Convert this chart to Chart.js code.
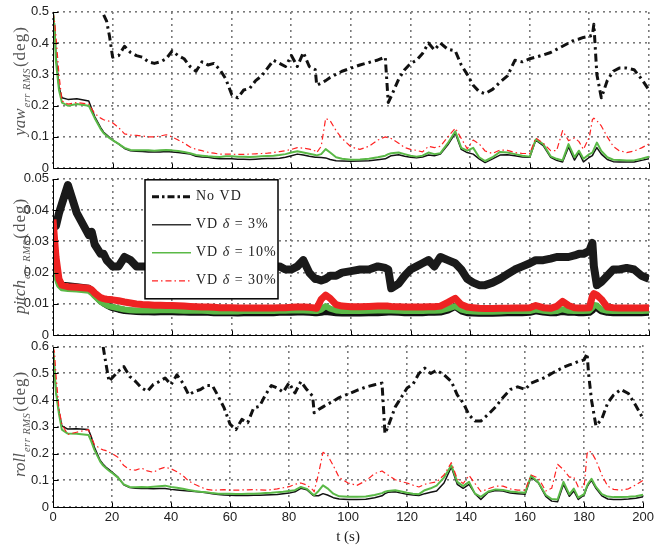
<!DOCTYPE html>
<html><head><meta charset="utf-8">
<script src="https://cdn.jsdelivr.net/npm/chart.js@4/dist/chart.umd.min.js"></script>
<style>
html,body{margin:0;padding:0;background:#fff;}
#wrap{position:relative;width:657px;height:546px;overflow:hidden;background:#fff;}
canvas{position:absolute;left:0;}
</style></head><body>
<div id="wrap">
<canvas id="c1" width="657" height="180" style="top:0px;width:657px;height:180px"></canvas>
<canvas id="c2" width="657" height="180" style="top:167px;width:657px;height:180px"></canvas>
<canvas id="c3" width="657" height="211" style="top:335px;width:657px;height:211px"></canvas>
</div>
<script>
// ---- time samples (s) ----
const T = [0,0.5,1,2,3,5,8,12,13,14,
 16,17,18,19,20,22,24,26,28,30,
 32,34,36,38,40,42,44,46,48,50,
 52,54,56,58,60,62,64,66,68,70,
 72,74,76,78,80,82,84,86,88,88.5,
 90,91.5,93,95,97,100,103,106,109,111.5,
 112.5,113.5,116,118,120,122,124,126,128,130,
 132.5,135,137,139,141,143,145,147.5,150,152.5,
 155,157.5,160,162,164.5,167,169,171,173,175,
 176.5,178,180,181,181.5,182.5,184,186,188,190,
 192.5,195,197.5,200];

const seriesLabels = ['No VD', 'VD δ = 3%', 'VD δ = 10%', 'VD δ = 30%'];
const xTicks = [0,20,40,60,80,100,120,140,160,180,200];
const yawTicks = [0,0.1,0.2,0.3,0.4,0.5];
const pitchTicks = [0,0.01,0.02,0.03,0.04,0.05];
const rollTicks = [0,0.1,0.2,0.3,0.4,0.5,0.6];
const xTitle = 't (s)';

// ---- yaw ----
const yawNoVD = [null,null,null,null,null,null,null,null,null,null,
 null,0.49,0.47,0.42,0.355,0.36,0.39,0.37,0.36,0.355,
 0.34,0.335,0.34,0.35,0.375,0.36,0.35,0.325,0.31,0.34,
 0.33,0.335,0.315,0.285,0.235,0.225,0.25,0.255,0.28,0.295,
 0.32,0.345,0.335,0.325,0.36,0.325,0.37,0.325,0.315,0.265,
 0.272,0.28,0.29,0.30,0.31,0.32,0.33,0.338,0.346,0.355,
 0.21,0.23,0.285,0.315,0.335,0.345,0.367,0.40,0.378,0.40,
 0.38,0.375,0.33,0.30,0.265,0.245,0.238,0.252,0.275,0.295,
 0.345,0.34,0.35,0.355,0.362,0.37,0.38,0.39,0.40,0.41,
 0.413,0.418,0.422,0.425,0.46,0.30,0.225,0.28,0.31,0.32,
 0.32,0.315,0.285,0.25];
const yawVD3 = [0.5,0.46,0.36,0.26,0.225,0.22,0.222,0.215,0.19,0.165,
 0.13,0.115,0.107,0.098,0.09,0.078,0.063,0.056,0.054,0.053,
 0.052,0.052,0.052,0.053,0.052,0.05,0.048,0.045,0.038,0.036,
 0.035,0.032,0.03,0.03,0.03,0.029,0.029,0.028,0.029,0.03,
 0.031,0.031,0.032,0.035,0.04,0.045,0.042,0.038,0.035,0.035,
 0.034,0.033,0.028,0.024,0.023,0.022,0.023,0.024,0.027,0.03,
 0.035,0.04,0.043,0.038,0.035,0.033,0.036,0.042,0.04,0.045,
 0.075,0.112,0.06,0.05,0.045,0.03,0.018,0.03,0.042,0.043,
 0.04,0.036,0.035,0.09,0.072,0.035,0.025,0.02,0.068,0.026,
 0.05,0.02,0.035,0.04,0.05,0.066,0.045,0.028,0.021,0.02,
 0.02,0.02,0.025,0.03];
const yawVD10 = [0.5,0.45,0.34,0.25,0.21,0.2,0.205,0.2,0.18,0.16,
 0.125,0.112,0.104,0.096,0.09,0.078,0.065,0.058,0.057,0.057,
 0.057,0.056,0.057,0.058,0.057,0.055,0.052,0.048,0.042,0.04,
 0.038,0.037,0.036,0.038,0.038,0.037,0.037,0.036,0.037,0.038,
 0.039,0.04,0.042,0.045,0.05,0.054,0.05,0.046,0.042,0.041,
 0.045,0.061,0.05,0.035,0.03,0.027,0.028,0.03,0.035,0.04,
 0.045,0.048,0.05,0.045,0.04,0.037,0.04,0.05,0.045,0.048,
 0.08,0.118,0.065,0.056,0.065,0.035,0.023,0.035,0.052,0.05,
 0.045,0.04,0.037,0.092,0.077,0.038,0.03,0.025,0.077,0.035,
 0.056,0.03,0.045,0.05,0.06,0.082,0.055,0.035,0.027,0.026,
 0.025,0.025,0.03,0.037];
const yawVD30 = [0.5,0.47,0.42,0.3,0.215,0.205,0.21,0.205,0.19,0.175,
 0.16,0.155,0.152,0.15,0.145,0.13,0.11,0.106,0.105,0.103,
 0.1,0.1,0.103,0.107,0.1,0.09,0.08,0.068,0.06,0.056,
 0.051,0.048,0.045,0.045,0.045,0.044,0.044,0.045,0.046,0.047,
 0.048,0.05,0.053,0.056,0.06,0.066,0.064,0.061,0.055,0.05,
 0.07,0.159,0.152,0.12,0.095,0.068,0.06,0.07,0.09,0.1,
 0.097,0.095,0.08,0.066,0.06,0.057,0.052,0.07,0.066,0.07,
 0.1,0.128,0.095,0.062,0.09,0.078,0.055,0.047,0.058,0.057,
 0.05,0.047,0.047,0.097,0.08,0.056,0.056,0.12,0.088,0.097,
 0.085,0.06,0.1,0.155,0.16,0.152,0.135,0.1,0.07,0.056,
 0.05,0.055,0.065,0.078];

// ---- pitch ----
const pitchNoVD = [0.037,0.035,0.035,0.039,0.042,0.048,0.039,0.032,0.033,0.029,
 0.026,0.026,0.024,0.023,0.022,0.022,0.025,0.024,0.022,0.022,
 0.022,0.023,0.022,0.022,0.021,0.022,0.022,0.021,0.021,0.021,
 0.021,0.022,0.022,0.021,0.021,0.02,0.021,0.021,0.022,0.022,
 0.022,0.022,0.022,0.021,0.021,0.022,0.024,0.02,0.018,0.018,
 0.0175,0.018,0.019,0.019,0.02,0.0205,0.021,0.021,0.022,0.0215,
 0.021,0.015,0.0165,0.019,0.021,0.022,0.023,0.024,0.022,0.025,
 0.024,0.023,0.021,0.018,0.0168,0.016,0.016,0.0168,0.018,0.0195,
 0.021,0.022,0.023,0.024,0.024,0.0245,0.025,0.025,0.025,0.0255,
 0.026,0.026,0.027,0.0295,0.022,0.016,0.017,0.019,0.021,0.021,
 0.0215,0.021,0.019,0.018];
const pitchVD3 = [0.03,0.025,0.02,0.017,0.016,0.0158,0.0155,0.015,0.0143,0.013,
 0.011,0.0103,0.0097,0.0092,0.0088,0.0083,0.0079,0.0077,0.0076,0.0075,
 0.0075,0.0074,0.0075,0.0076,0.0075,0.0074,0.0074,0.0073,0.0073,0.0073,
 0.0073,0.0072,0.0072,0.0072,0.0072,0.0071,0.0072,0.0072,0.0072,0.0072,
 0.0072,0.0072,0.0073,0.0073,0.0073,0.0074,0.0074,0.0073,0.0072,0.0072,
 0.0073,0.0076,0.0074,0.0072,0.0071,0.0071,0.0071,0.0072,0.0072,0.0073,
 0.0074,0.0074,0.0073,0.0072,0.0072,0.0072,0.0072,0.0073,0.0073,0.0074,
 0.008,0.0092,0.0078,0.0072,0.0071,0.007,0.007,0.007,0.0071,0.0072,
 0.0072,0.0072,0.0073,0.0078,0.0074,0.0072,0.0072,0.0076,0.0073,0.0073,
 0.0072,0.0072,0.0073,0.008,0.009,0.0088,0.0078,0.0073,0.0072,0.0072,
 0.0072,0.0072,0.0072,0.0073];
const pitchVD10 = [0.03,0.024,0.019,0.016,0.015,0.0148,0.0146,0.0142,0.0135,0.0125,
 0.0107,0.0101,0.0096,0.0092,0.009,0.0086,0.0082,0.008,0.0079,0.0079,
 0.0079,0.0079,0.008,0.008,0.008,0.0079,0.0078,0.0078,0.0078,0.0078,
 0.0077,0.0076,0.0076,0.0076,0.0076,0.0076,0.0077,0.0077,0.0077,0.0077,
 0.0077,0.0077,0.0078,0.0078,0.0079,0.0079,0.0079,0.0078,0.0077,0.0077,
 0.0082,0.0093,0.0085,0.0079,0.0077,0.0077,0.0077,0.0078,0.0079,0.0079,
 0.0079,0.0079,0.0078,0.0077,0.0077,0.0077,0.0077,0.0078,0.0078,0.0079,
 0.0085,0.0093,0.0082,0.0077,0.0076,0.0075,0.0075,0.0075,0.0076,0.0077,
 0.0077,0.0077,0.0077,0.0082,0.0078,0.0076,0.0077,0.0083,0.0078,0.0077,
 0.0077,0.0077,0.0078,0.0088,0.0097,0.0095,0.0083,0.0078,0.0077,0.0077,
 0.0077,0.0077,0.0077,0.0078];
const pitchVD30 = [0.037,0.031,0.025,0.018,0.016,0.0155,0.0153,0.015,0.0145,0.0135,
 0.012,0.0117,0.0115,0.0114,0.0113,0.011,0.0106,0.0103,0.01,0.0098,
 0.0097,0.0096,0.0096,0.0095,0.0095,0.0094,0.0093,0.0092,0.0091,0.009,
 0.009,0.0089,0.0088,0.0088,0.0088,0.0087,0.0087,0.0087,0.0087,0.0087,
 0.0087,0.0087,0.0088,0.0088,0.0089,0.009,0.009,0.0089,0.0087,0.0086,
 0.0115,0.0128,0.0118,0.0098,0.0093,0.0091,0.0091,0.0092,0.0093,0.0093,
 0.0093,0.0092,0.0091,0.009,0.009,0.009,0.009,0.0091,0.0091,0.0093,
 0.0105,0.0118,0.0098,0.009,0.0088,0.0086,0.0085,0.0085,0.0086,0.0086,
 0.0087,0.0087,0.0088,0.0095,0.0088,0.0086,0.0092,0.0108,0.0095,0.0088,
 0.0087,0.0087,0.0088,0.0125,0.0133,0.0128,0.0115,0.009,0.0088,0.0087,
 0.0087,0.0087,0.0087,0.0088];

// ---- roll ----
const rollNoVD = [null,null,null,null,null,null,null,null,null,null,
 null,0.6,0.533,0.47,0.483,0.507,0.526,0.489,0.47,0.446,
 0.433,0.459,0.47,0.483,0.458,0.495,0.464,0.42,0.433,0.44,
 0.455,0.455,0.415,0.371,0.31,0.29,0.328,0.316,0.371,0.377,
 0.42,0.455,0.446,0.43,0.465,0.427,0.47,0.44,0.415,0.353,
 0.365,0.375,0.385,0.396,0.41,0.423,0.437,0.449,0.458,0.464,
 0.275,0.3,0.375,0.41,0.446,0.46,0.5,0.52,0.5,0.512,
 0.495,0.47,0.42,0.39,0.345,0.322,0.322,0.347,0.375,0.41,
 0.44,0.45,0.44,0.464,0.475,0.487,0.5,0.512,0.523,0.532,
 0.538,0.545,0.551,0.575,0.5,0.40,0.304,0.33,0.39,0.42,
 0.44,0.425,0.38,0.33];
const rollVD3 = [0.6,0.52,0.433,0.36,0.304,0.292,0.293,0.29,0.262,0.225,
 0.174,0.16,0.149,0.14,0.131,0.112,0.083,0.073,0.07,0.069,
 0.069,0.068,0.069,0.069,0.066,0.064,0.062,0.06,0.058,0.056,
 0.053,0.05,0.047,0.045,0.044,0.043,0.043,0.043,0.044,0.044,
 0.045,0.046,0.047,0.05,0.052,0.057,0.07,0.065,0.045,0.042,
 0.042,0.05,0.045,0.035,0.03,0.028,0.028,0.029,0.035,0.042,
 0.05,0.055,0.057,0.052,0.048,0.045,0.043,0.05,0.055,0.06,
 0.09,0.15,0.085,0.07,0.085,0.05,0.028,0.055,0.062,0.06,
 0.052,0.05,0.048,0.113,0.09,0.04,0.022,0.02,0.085,0.04,
 0.06,0.028,0.045,0.075,0.085,0.1,0.07,0.042,0.03,0.028,
 0.028,0.03,0.033,0.038];
const rollVD10 = [0.6,0.52,0.43,0.35,0.29,0.275,0.274,0.27,0.245,0.215,
 0.17,0.155,0.145,0.136,0.128,0.11,0.085,0.075,0.074,0.075,
 0.074,0.076,0.078,0.08,0.075,0.072,0.068,0.064,0.06,0.057,
 0.055,0.052,0.05,0.05,0.05,0.049,0.049,0.05,0.05,0.051,
 0.052,0.053,0.055,0.057,0.06,0.063,0.075,0.068,0.048,0.044,
 0.06,0.081,0.07,0.05,0.04,0.038,0.038,0.039,0.045,0.052,
 0.057,0.06,0.063,0.058,0.053,0.05,0.048,0.063,0.07,0.08,
 0.11,0.156,0.094,0.078,0.094,0.05,0.038,0.058,0.066,0.064,
 0.058,0.055,0.053,0.117,0.092,0.045,0.03,0.028,0.094,0.047,
 0.069,0.035,0.048,0.08,0.09,0.106,0.075,0.048,0.039,0.037,
 0.037,0.038,0.04,0.046];
const rollVD30 = [0.6,0.58,0.495,0.37,0.31,0.272,0.28,0.29,0.26,0.235,
 0.218,0.214,0.211,0.205,0.2,0.186,0.155,0.14,0.138,0.146,
 0.135,0.13,0.142,0.149,0.143,0.132,0.118,0.097,0.085,0.075,
 0.066,0.063,0.064,0.065,0.063,0.063,0.064,0.064,0.065,0.064,
 0.063,0.065,0.068,0.072,0.076,0.085,0.09,0.082,0.065,0.057,
 0.125,0.205,0.195,0.155,0.11,0.09,0.081,0.098,0.125,0.135,
 0.127,0.12,0.102,0.095,0.09,0.082,0.075,0.085,0.09,0.094,
 0.12,0.166,0.105,0.088,0.118,0.088,0.058,0.068,0.078,0.078,
 0.068,0.063,0.063,0.12,0.108,0.06,0.07,0.16,0.14,0.112,
 0.112,0.075,0.075,0.2,0.21,0.205,0.175,0.12,0.078,0.066,
 0.063,0.068,0.083,0.1];

// sanity check
const allSeries = {yawNoVD,yawVD3,yawVD10,yawVD30,pitchNoVD,pitchVD3,pitchVD10,pitchVD30,rollNoVD,rollVD3,rollVD10,rollVD30};
for (const k in allSeries) { if (allSeries[k].length !== T.length) throw new Error(k + ' length ' + allSeries[k].length + ' vs ' + T.length); }

// ---- styles ----
const GREEN = '#5ab947', RED = '#ff2222', BLACK = '#111111';
const lineStyles = [
  {borderColor: BLACK, borderWidth: 3, borderDash: [8,4,2.5,4]},
  {borderColor: BLACK, borderWidth: 1.5},
  {borderColor: GREEN, borderWidth: 2},
  {borderColor: RED, borderWidth: 1.2, borderDash: [6,3,1.5,3]}
];
const bandStyles = [
  {borderColor: '#1a1a1a', borderWidth: 8},
  {borderColor: BLACK, borderWidth: 7},
  {borderColor: GREEN, borderWidth: 6},
  {borderColor: '#ee2222', borderWidth: 7}
];
const legendStyles = [
  {color: BLACK, width: 3, dash: [7,3,2.5,3]},
  {color: '#333', width: 1.5, dash: []},
  {color: GREEN, width: 1.5, dash: []},
  {color: RED, width: 1.2, dash: [6,3,1.5,3]}
];

// ---- plugins ----
// dotted MATLAB-style grid, placed with the chart's own scales
const dotGridPlugin = {
  id: 'dotGrid',
  beforeDatasetsDraw(chart) {
    const {ctx, chartArea: a, scales} = chart;
    ctx.save();
    ctx.fillStyle = '#7a7a7a';
    const L = Math.round(a.left), R = Math.round(a.right), Tp = Math.round(a.top), B = Math.round(a.bottom);
    scales.y.ticks.forEach(t => {
      const py = Math.round(scales.y.getPixelForValue(t.value));
      for (let x = L + 4; x <= R - 1; x += 6) ctx.fillRect(x, py - 1, 2, 1.6);
    });
    scales.x.ticks.forEach(t => {
      const px = Math.round(scales.x.getPixelForValue(t.value));
      for (let y = B - 4; y >= Tp; y -= 6) ctx.fillRect(px - 1, y - 2, 1.6, 2);
    });
    ctx.restore();
  }
};
const axisPlugin = {
  id: 'matlabAxes',
  afterDraw(chart) {
    const {ctx, chartArea: a, scales} = chart;
    ctx.save();
    ctx.strokeStyle = '#000'; ctx.lineWidth = 1; ctx.setLineDash([]);
    ctx.beginPath();
    const L = Math.round(a.left) + 0.5, B = Math.round(a.bottom) + 0.5;
    ctx.moveTo(L, Math.round(a.top)); ctx.lineTo(L, B); ctx.lineTo(Math.round(a.right) + 1, B);
    scales.x.ticks.forEach(t => { const px = Math.round(scales.x.getPixelForValue(t.value)) + 0.5; ctx.moveTo(px, B); ctx.lineTo(px, B - 5); });
    scales.y.ticks.forEach(t => { const py = Math.round(scales.y.getPixelForValue(t.value)) + 0.5; ctx.moveTo(L, py); ctx.lineTo(L + 5, py); });
    ctx.stroke();
    ctx.restore();
  }
};
const yTitlePlugin = {
  id: 'yTitle',
  afterDraw(chart, args, opts) {
    if (!opts || !opts.main) return;
    const ctx = chart.ctx;
    ctx.save();
    ctx.fillStyle = '#555';
    const fMain = "italic 17px 'Liberation Serif', serif";
    const fSub = "italic 10.5px 'Liberation Serif', serif";
    const fUnit = "17px 'Liberation Serif', serif";
    ctx.letterSpacing = '0px';
    ctx.font = fMain; const w1 = ctx.measureText(opts.main).width;
    ctx.font = fSub; ctx.letterSpacing = '0.5px'; const w2 = ctx.measureText(opts.sub).width;
    ctx.font = fUnit; ctx.letterSpacing = '1px'; const w3 = ctx.measureText(opts.unit).width;
    const total = w1 + w2 + w3 + 2;
    const cy = (chart.chartArea.top + chart.chartArea.bottom) / 2 + opts.shift;
    ctx.translate(25, cy); ctx.rotate(-Math.PI / 2);
    ctx.textBaseline = 'alphabetic'; ctx.textAlign = 'left';
    let x = -total / 2;
    ctx.letterSpacing = '0px'; ctx.font = fMain; ctx.fillText(opts.main, x, 0); x += w1 + 1;
    ctx.letterSpacing = '0.5px'; ctx.font = fSub; ctx.fillText(opts.sub, x, 5); x += w2 + 1;
    ctx.letterSpacing = '1px'; ctx.font = fUnit; ctx.fillText(opts.unit, x, 0);
    ctx.restore();
  }
};
const legendPlugin = {
  id: 'boxLegend',
  afterDatasetsDraw(chart, args, opts) {
    if (!opts || !opts.show) return;
    const ctx = chart.ctx, a = chart.chartArea;
    const x0 = a.left + 92, y0 = a.top + 1, w = 133, h = 119;
    ctx.save();
    ctx.fillStyle = '#fff'; ctx.fillRect(x0, y0, w, h);
    ctx.strokeStyle = '#000'; ctx.lineWidth = 1.5; ctx.setLineDash([]); ctx.strokeRect(x0, y0, w, h);
    legendStyles.forEach((st, i) => {
      const y = y0 + 17 + i * 28;
      ctx.beginPath(); ctx.setLineDash(st.dash); ctx.strokeStyle = st.color; ctx.lineWidth = st.width;
      ctx.moveTo(x0 + 7, y); ctx.lineTo(x0 + 46, y); ctx.stroke();
      ctx.setLineDash([]);
      const parts = seriesLabels[i].split('δ');
      let tx = x0 + 51;
      ctx.fillStyle = '#222'; ctx.textBaseline = 'middle'; ctx.letterSpacing = '1px';
      ctx.font = "14px 'Liberation Serif', serif";
      ctx.fillText(parts[0], tx, y); tx += ctx.measureText(parts[0]).width;
      if (parts.length > 1) {
        ctx.font = "italic 14px 'Liberation Serif', serif"; ctx.fillText('δ', tx, y); tx += ctx.measureText('δ').width;
        ctx.font = "14px 'Liberation Serif', serif"; ctx.fillText(parts[1], tx, y);
      }
    });
    ctx.restore();
  }
};

const tickFont = {family: "'Liberation Sans', Arial, sans-serif", size: 13};
function fmt(v) { return String(Math.round(v * 1000) / 1000); }

function build(id, arrs, styles, yMax, yTicks, cfg) {
  const datasets = arrs.map((a, i) => Object.assign({
    label: seriesLabels[i],
    data: T.map((t, j) => ({x: t, y: a[j]})),
    pointRadius: 0, tension: 0, fill: false, spanGaps: false, order: 3 - i,
    borderCapStyle: 'butt', borderJoinStyle: 'round'
  }, styles[i]));
  const gridOpts = () => ({display: false, drawTicks: false});
  const borderOpts = () => ({display: false});
  return new Chart(document.getElementById(id), {
    type: 'line',
    data: {datasets},
    options: {
      responsive: false, animation: false, devicePixelRatio: 1,
      layout: {padding: {top: 10, right: 8, left: 0, bottom: 0}},
      plugins: {legend: {display: false}, tooltip: {enabled: false},
        yTitle: cfg.yTitle, boxLegend: {show: !!cfg.legend}},
      scales: {
        x: {type: 'linear', min: 0, max: 200,
          afterBuildTicks: s => { s.ticks = xTicks.map(v => ({value: v})); },
          afterFit: s => { s.height = cfg.xH; },
          grid: gridOpts(), border: borderOpts(),
          ticks: {display: cfg.showX, padding: 3, color: '#222', font: tickFont, maxRotation: 0, autoSkip: false},
          title: cfg.showX ? {display: true, text: xTitle, color: '#222',
            font: {family: "'Liberation Serif', serif", size: 15, lineHeight: 1}, padding: {top: 0, bottom: 1}} : {display: false}
        },
        y: {type: 'linear', min: 0, max: yMax,
          afterBuildTicks: s => { s.ticks = yTicks.map(v => ({value: v})); },
          afterFit: s => { s.width = 53; },
          grid: gridOpts(), border: borderOpts(),
          ticks: {padding: 4, color: '#222', font: tickFont, callback: v => fmt(v)}
        }
      }
    },
    plugins: [dotGridPlugin, axisPlugin, yTitlePlugin, legendPlugin]
  });
}

build('c1', [yawNoVD, yawVD3, yawVD10, yawVD30], lineStyles, 0.5, yawTicks,
  {xH: 8.5, showX: false, yTitle: {main: 'yaw', sub: 'err RMS', unit: '(deg)', shift: -9}});
build('c2', [pitchNoVD, pitchVD3, pitchVD10, pitchVD30], bandStyles, 0.05, pitchTicks,
  {xH: 9, showX: false, legend: true, yTitle: {main: 'pitch', sub: 'err RMS', unit: '(deg)', shift: -1}});
build('c3', [rollNoVD, rollVD3, rollVD10, rollVD30], lineStyles, 0.6, rollTicks,
  {xH: 39, showX: true, yTitle: {main: 'roll', sub: 'err RMS', unit: '(deg)', shift: -3}});
</script>
</body></html>
